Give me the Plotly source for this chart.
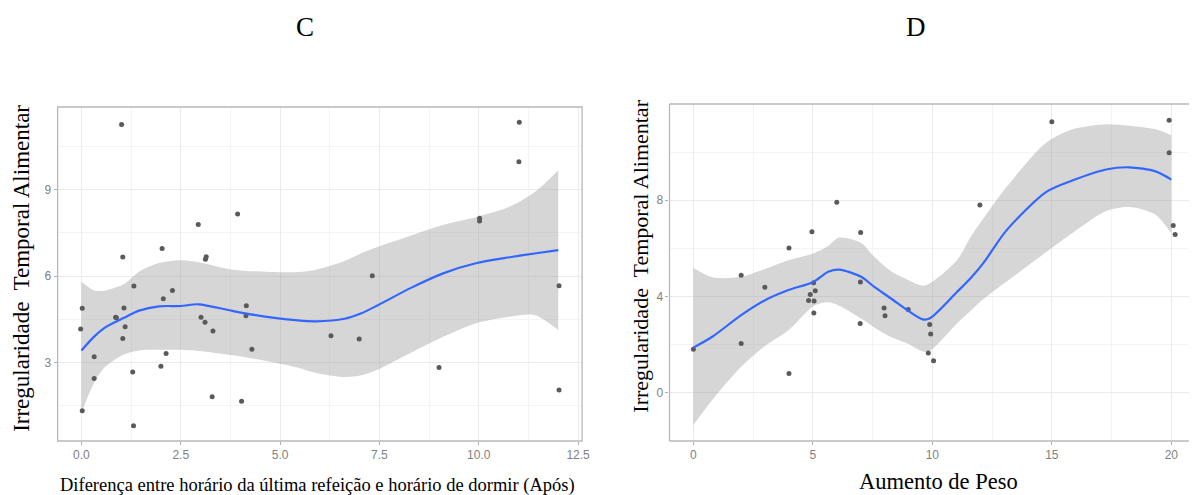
import plotly.graph_objects as go

# ---------- Panel C data ----------
c_x = [1.01, 3.93, 2.94, 2.03, 1.04, 3.14, 3.12, 0.02, -0.02, 0.86, 0.88, 1.07, 1.32, 1.10, 1.04,
       0.32, 0.32, 0.02, 1.29, 1.31, 2.00, 2.13, 2.06, 2.29, 3.01, 3.11, 3.31, 3.29, 4.15, 4.14,
       4.29, 4.03, 11.02, 11.01, 10.02, 10.02, 7.32, 12.02, 6.28, 6.99, 9.00, 12.02]
c_y = [11.25, 8.15, 7.79, 6.95, 6.66, 6.67, 6.58, 4.88, 4.16, 4.57, 4.55, 4.89, 5.65, 4.24, 3.83,
       3.20, 2.45, 1.33, 2.67, 0.81, 2.87, 3.31, 5.21, 5.50, 4.57, 4.40, 4.09, 1.81, 4.97, 4.62,
       3.46, 1.66, 11.33, 9.96, 8.00, 7.91, 6.01, 5.66, 3.93, 3.82, 2.83, 2.05]

c_fit_x = [0.0, 0.32, 0.6, 1.07, 1.45, 1.95, 2.5, 2.95, 3.8, 4.62, 5.45, 5.9, 6.62, 7.03, 7.45,
           8.28, 9.12, 9.95, 10.78, 11.4, 12.0]
c_fit_y = [3.42, 3.90, 4.22, 4.55, 4.80, 4.95, 4.96, 5.02, 4.79, 4.59, 4.46, 4.43, 4.52, 4.70, 4.98,
           5.58, 6.10, 6.45, 6.65, 6.78, 6.90]
c_up_y = [5.80, 5.50, 5.50, 5.72, 6.15, 6.45, 6.55, 6.48, 6.22, 6.15, 6.14, 6.22, 6.52, 6.78, 7.01,
          7.40, 7.78, 8.05, 8.40, 8.90, 9.67]
c_lo_y = [1.26, 2.30, 2.85, 3.28, 3.42, 3.44, 3.44, 3.40, 3.25, 3.06, 2.82, 2.64, 2.50, 2.55, 2.75,
          3.33, 3.90, 4.37, 4.59, 4.65, 4.13]

# ---------- Panel D data ----------
d_x = [6.0, 4.96, 7.0, 4.0, 2.0, 2.99, 5.03, 4.89, 5.10, 4.82, 5.05, 5.04, 6.99, 6.98, 7.98,
       8.02, 0.0, 2.0, 4.0, 8.99, 9.89, 9.93, 9.83, 10.05, 11.99, 15.0, 19.91, 19.91, 20.08, 20.16]
d_y = [7.92, 6.69, 6.66, 6.02, 4.89, 4.39, 4.57, 4.09, 4.24, 3.84, 3.82, 3.32, 4.61, 2.88, 3.53,
       3.20, 1.81, 2.05, 0.80, 3.46, 2.84, 2.45, 1.66, 1.33, 7.80, 11.26, 11.33, 9.97, 6.95, 6.58]

d_fit_x = [0.0, 0.79, 2.0, 3.0, 3.98, 5.02, 5.64, 6.1, 7.02, 7.57, 8.27, 8.96, 9.6, 9.9, 11.03,
           11.59, 12.14, 13.11, 14.77, 15.88, 17.27, 18.24, 19.34, 20.0]
d_fit_y = [1.88, 2.33, 3.23, 3.85, 4.27, 4.61, 5.03, 5.12, 4.82, 4.40, 3.92, 3.43, 3.05, 3.10, 4.19,
           4.75, 5.40, 6.76, 8.35, 8.83, 9.28, 9.37, 9.20, 8.86]
d_up_y = [5.20, 4.80, 4.82, 5.15, 5.51, 5.79, 6.10, 6.45, 6.23, 5.65, 5.05, 4.70, 4.45, 4.55, 5.51,
          6.45, 7.25, 8.56, 10.40, 10.95, 11.16, 11.10, 10.95, 10.70]
d_lo_y = [-1.34, -0.30, 1.08, 1.95, 2.60, 3.60, 3.76, 3.62, 3.09, 2.72, 2.32, 2.05, 1.72, 1.75, 2.88,
          3.40, 3.90, 4.63, 5.85, 6.65, 7.55, 7.72, 7.40, 6.62]

c_xticks = [0.0, 2.5, 5.0, 7.5, 10.0, 12.5]
c_xlabels = ["0.0", "2.5", "5.0", "7.5", "10.0", "12.5"]
c_yticks = [3, 6, 9]
d_xticks = [0, 5, 10, 15, 20]
d_yticks = [0, 4, 8]

W, H = 1197, 495
def px(v): return v / W
def py(v): return (H - v) / H

RIB = "rgba(153,153,153,0.4)"
BLUE = "#3366FF"
PT = "#5a5a5a"

fig = go.Figure()

def add_panel(fx, fy, up, lo, xs, ys, xa, ya):
    fig.add_trace(go.Scatter(x=fx, y=lo, mode="lines", line=dict(width=0, shape="spline", smoothing=0.8),
                             hoverinfo="skip", xaxis=xa, yaxis=ya))
    fig.add_trace(go.Scatter(x=fx, y=up, mode="lines", fill="tonexty", fillcolor=RIB,
                             line=dict(width=0, shape="spline", smoothing=0.8),
                             hoverinfo="skip", xaxis=xa, yaxis=ya))
    fig.add_trace(go.Scatter(x=xs, y=ys, mode="markers", marker=dict(color=PT, size=5),
                             xaxis=xa, yaxis=ya))
    fig.add_trace(go.Scatter(x=fx, y=fy, mode="lines",
                             line=dict(color=BLUE, width=2.2, shape="spline", smoothing=0.8),
                             xaxis=xa, yaxis=ya))

add_panel(c_fit_x, c_fit_y, c_up_y, c_lo_y, c_x, c_y, "x", "y")
add_panel(d_fit_x, d_fit_y, d_up_y, d_lo_y, d_x, d_y, "x2", "y2")

tickfont = dict(family="Liberation Sans, Arial", size=12, color="#7f7f7f")
GRID = "#ebebeb"
MINOR = "#f4f4f4"
common = dict(showgrid=True, gridcolor=GRID, gridwidth=1, zeroline=False, showline=False,
              ticks="outside", ticklen=3, tickcolor="#b0b0b0", tickfont=tickfont, fixedrange=True)

fig.update_layout(
    width=W, height=H, margin=dict(l=0, r=0, t=0, b=0),
    paper_bgcolor="white", plot_bgcolor="white", showlegend=False,
    xaxis=dict(domain=[px(58), px(586)], range=[-0.6, 12.6], tickvals=c_xticks, ticktext=c_xlabels,
               minor=dict(tickvals=[1.25, 3.75, 6.25, 8.75, 11.25], showgrid=True, gridcolor=MINOR, ticks=""),
               anchor="y", **common),
    yaxis=dict(domain=[py(441), py(107)], range=[0.28, 11.86], tickvals=c_yticks,
               minor=dict(tickvals=[1.5, 4.5, 7.5, 10.5], showgrid=True, gridcolor=MINOR, ticks=""),
               anchor="x", **common),
    xaxis2=dict(domain=[px(674), 1.0], range=[-1.0, 20.74], tickvals=d_xticks,
                minor=dict(tickvals=[2.5, 7.5, 12.5, 17.5], showgrid=True, gridcolor=MINOR, ticks=""),
                anchor="y2", **common),
    yaxis2=dict(domain=[py(441), py(104)], range=[-2.0, 12.0], tickvals=d_yticks,
                minor=dict(tickvals=[-2, 2, 6, 10], showgrid=True, gridcolor=MINOR, ticks=""),
                anchor="x2", **common),
)

BORDER = "#b8b8b8"
fig.add_shape(type="rect", xref="x domain", yref="y domain", x0=0, x1=1, y0=0, y1=1,
              line=dict(color=BORDER, width=1.3), layer="above")
for (x0, y0, x1, y1) in [(0, 0, 0, 1), (0, 0, 1, 0), (0, 1, 1, 1)]:
    fig.add_shape(type="line", xref="x2 domain", yref="y2 domain", x0=x0, y0=y0, x1=x1, y1=y1,
                  line=dict(color=BORDER, width=1.3), layer="above")

serif = "Liberation Serif, Times New Roman, serif"
ann = [
    dict(text="C", x=px(307), y=py(27), size=27),
    dict(text="D", x=px(922), y=py(27), size=27),
    dict(text="Diferença entre horário da última refeição e horário de dormir (Após)", x=px(320), y=py(485), size=18.5),
    dict(text="Aumento de Peso", x=px(945), y=py(481), size=22.5),
]
for a in ann:
    fig.add_annotation(text=a["text"], x=a["x"], y=a["y"], xref="paper", yref="paper",
                       showarrow=False, xanchor="center", yanchor="middle",
                       font=dict(family=serif, size=a["size"], color="black"))
fig.add_annotation(text="Irregularidade\u00a0 Temporal Alimentar", x=px(22), y=py(268), xref="paper", yref="paper",
                   showarrow=False, textangle=-90, xanchor="center", yanchor="middle",
                   font=dict(family=serif, size=23, color="black"))
fig.add_annotation(text="Irregularidade\u00a0 Temporal Alimentar", x=px(644), y=py(256), xref="paper", yref="paper",
                   showarrow=False, textangle=-90, xanchor="center", yanchor="middle",
                   font=dict(family=serif, size=22, color="black"))

fig.write_html("out.html", config={"displayModeBar": False},
               post_script="document.body.style.margin='0';document.body.style.overflow='hidden';")
